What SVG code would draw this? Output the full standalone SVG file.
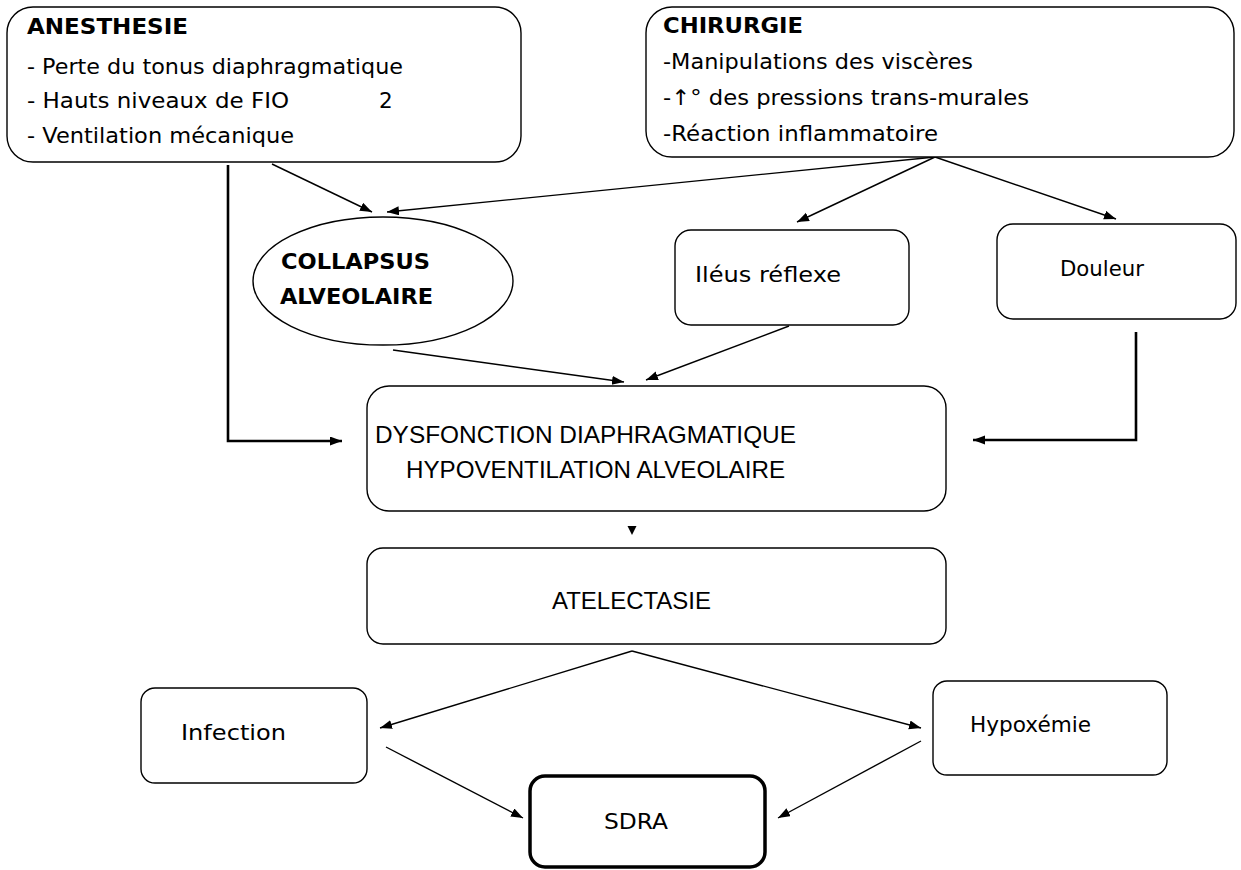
<svg xmlns="http://www.w3.org/2000/svg" width="1241" height="870" viewBox="0 0 1241 870">
<defs>
<marker id="ah" markerUnits="userSpaceOnUse" markerWidth="13" markerHeight="10" refX="12" refY="4.5" orient="auto">
<path d="M0,0 L12,4.5 L0,9 z" fill="#000"/>
</marker>
<style>
.box{fill:#fff;stroke:#000;stroke-width:1.4}
.thick{fill:#fff;stroke:#000;stroke-width:3.5}
.c{font-family:"DejaVu Sans","Noto Sans",sans-serif;font-size:21.5px;fill:#000}
.cb{font-family:"DejaVu Sans","Noto Sans",sans-serif;font-size:22px;font-weight:bold;fill:#000}
.a{font-family:"Liberation Sans",Arial,sans-serif;font-size:24px;fill:#000}
.ln{fill:none;stroke:#000;stroke-width:1.4;marker-end:url(#ah)}
.lt{fill:none;stroke:#000;stroke-width:2.6;marker-end:url(#ah)}
</style>
</defs>
<rect width="1241" height="870" fill="#fff"/>

<g id="connectors">
<path class="ln" d="M272,164 L372,212"/>
<path class="ln" d="M935,157 L387,212"/>
<path class="ln" d="M935,157 L797,222"/>
<path class="ln" d="M935,157 L1116,219"/>
<path class="lt" d="M228,165 L228,441 L342,441"/>
<path class="lt" d="M1136,332 L1136,440 L973,440"/>
<path class="ln" d="M393,350 L624,382"/>
<path class="ln" d="M789,326 L646,380"/>
<path d="M627.5,526 L636.5,526 L632,535 z" fill="#000"/>
<path class="ln" d="M632,651 L380,728"/>
<path class="ln" d="M632,651 L921,728"/>
<path class="ln" d="M386,747 L523,818"/>
<path class="ln" d="M921,741 L778,818"/>
</g>

<g id="anesthesie">
<rect class="box" x="7" y="7" width="514" height="155" rx="26"/>
<text class="cb" x="27" y="34" textLength="161" lengthAdjust="spacingAndGlyphs">ANESTHESIE</text>
<text class="c" x="27" y="74" textLength="376" lengthAdjust="spacingAndGlyphs">- Perte du tonus diaphragmatique</text>
<text class="c" x="27" y="108" textLength="262" lengthAdjust="spacingAndGlyphs">- Hauts niveaux de FIO</text>
<text class="c" x="379" y="108">2</text>
<text class="c" x="27" y="143" textLength="267" lengthAdjust="spacingAndGlyphs">- Ventilation mécanique</text>
</g>

<g id="chirurgie">
<rect class="box" x="646" y="7" width="588" height="150" rx="26"/>
<text class="cb" x="663" y="33" textLength="140" lengthAdjust="spacingAndGlyphs">CHIRURGIE</text>
<text class="c" x="663" y="69" textLength="310" lengthAdjust="spacingAndGlyphs">-Manipulations des viscères</text>
<text class="c" x="663" y="105" textLength="366" lengthAdjust="spacingAndGlyphs">-↑°  des pressions trans-murales</text>
<text class="c" x="663" y="141" textLength="275" lengthAdjust="spacingAndGlyphs">-Réaction inflammatoire</text>
</g>

<g id="collapsus">
<ellipse class="box" cx="383" cy="281" rx="130" ry="64"/>
<text class="cb" x="281" y="269" textLength="149" lengthAdjust="spacingAndGlyphs">COLLAPSUS</text>
<text class="cb" x="280" y="304" textLength="153" lengthAdjust="spacingAndGlyphs">ALVEOLAIRE</text>
</g>

<g id="ileus">
<rect class="box" x="675" y="230" width="234" height="95" rx="16"/>
<text class="c" x="695" y="282" textLength="146" lengthAdjust="spacingAndGlyphs">Iléus réflexe</text>
</g>

<g id="douleur">
<rect class="box" x="997" y="224" width="239" height="95" rx="16"/>
<text class="c" x="1060" y="276" textLength="84" lengthAdjust="spacingAndGlyphs">Douleur</text>
</g>

<g id="dysfonction">
<rect class="box" x="367" y="386" width="579" height="125" rx="22"/>
<text class="a" x="375" y="443" textLength="421" lengthAdjust="spacingAndGlyphs">DYSFONCTION DIAPHRAGMATIQUE</text>
<text class="a" x="406" y="478" textLength="379" lengthAdjust="spacingAndGlyphs">HYPOVENTILATION ALVEOLAIRE</text>
</g>

<g id="atelectasie">
<rect class="box" x="367" y="548" width="579" height="96" rx="16"/>
<text class="a" x="552" y="609" textLength="159" lengthAdjust="spacingAndGlyphs">ATELECTASIE</text>
</g>

<g id="infection">
<rect class="box" x="141" y="688" width="226" height="95" rx="14"/>
<text class="c" x="181" y="740" textLength="105" lengthAdjust="spacingAndGlyphs">Infection</text>
</g>

<g id="hypoxemie">
<rect class="box" x="933" y="681" width="234" height="94" rx="14"/>
<text class="c" x="970" y="732" textLength="121" lengthAdjust="spacingAndGlyphs">Hypoxémie</text>
</g>

<g id="sdra">
<rect class="thick" x="530" y="776" width="235" height="91" rx="15"/>
<text class="c" x="604" y="829" textLength="64" lengthAdjust="spacingAndGlyphs">SDRA</text>
</g>
</svg>
